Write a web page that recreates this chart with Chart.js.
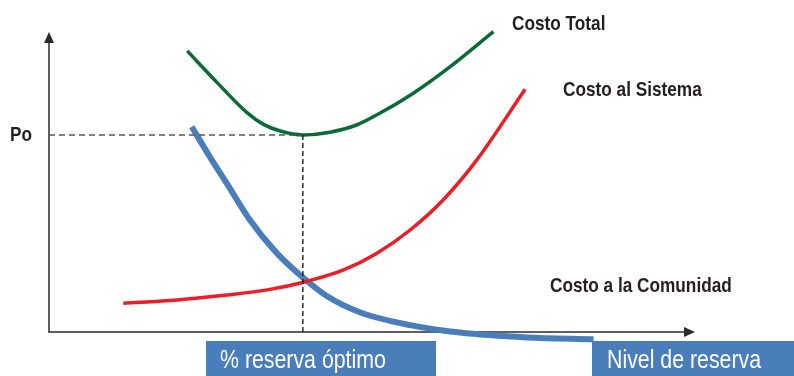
<!DOCTYPE html>
<html>
<head>
<meta charset="utf-8">
<script src="https://cdn.jsdelivr.net/npm/chart.js@4/dist/chart.umd.min.js"></script>
<style>
  html, body { margin: 0; padding: 0; background: #fff; overflow: hidden; }
  canvas { display: block; }
</style>
</head>
<body>
<canvas id="chart" width="794" height="376"></canvas>
<script>
// Reserve level (x, 0–100) against cost (y, 0–100), arbitrary units
const totalX     = [21.4, 26.0, 30.6, 33.2, 35.8, 39.3, 43.5, 47.6, 51.2, 56.4, 61.6, 68.8];
const totalY     = [93.7, 83.2, 73.2, 69.2, 67.0, 65.7, 66.6, 69.0, 72.9, 79.6, 87.6, 100.1];
const systemX    = [11.5, 19.8, 27.5, 34.2, 39.4, 45.6, 50.7, 55.9, 61.0, 66.2, 73.7];
const systemY    = [9.6, 10.7, 12.3, 14.2, 16.6, 20.7, 26.2, 34.0, 44.0, 57.3, 80.9];
const communityX = [22.1, 24.9, 27.5, 31.1, 35.3, 39.4, 43.0, 48.1, 55.9, 63.6, 74.0, 84.3];
const communityY = [68.4, 58.4, 49.6, 37.3, 26.2, 18.0, 12.0, 6.6, 2.3, -0.2, -1.8, -2.4];

// Optimum reserve and its cost level
const optimumX = 39.3;
const optimumCost = 65.7;

// Text
const seriesNames = ['Costo Total', 'Costo al Sistema', 'Costo a la Comunidad'];
const costTick = 'Po';
const optimumLabel = '% reserva óptimo';
const axisLabel = 'Nivel de reserva';

const zip = (xs, ys) => xs.map((x, i) => ({ x, y: ys[i] }));

const COLORS = {
  total: '#0b6b35',
  system: '#ee1d25',
  community: '#4a7ebb',
  box: '#4a7ebb',
  axis: '#2b2b2b',
  text: '#231f20'
};
const BOLD = 'bold 21px "Liberation Sans", Arial, sans-serif';
const PLAIN = '26px "Liberation Sans", Arial, sans-serif';
const NARROW = 0.82; // condensed lettering

function narrowText(ctx, text, x, y) {
  ctx.save();
  ctx.translate(x, y);
  ctx.scale(NARROW, 1);
  ctx.fillText(text, 0, 0);
  ctx.restore();
}

// Axes with arrowheads, drawn under the curves
const axesPlugin = {
  id: 'axes',
  beforeDatasetsDraw(chart) {
    const { ctx, chartArea: a, scales: { x, y } } = chart;
    const x0 = x.getPixelForValue(0), y0 = y.getPixelForValue(0);
    ctx.save();
    ctx.strokeStyle = COLORS.axis;
    ctx.fillStyle = COLORS.axis;
    ctx.lineWidth = 1.5;
    ctx.beginPath();
    ctx.moveTo(x0, a.top + 8);
    ctx.lineTo(x0, y0);
    ctx.lineTo(a.right - 8, y0);
    ctx.stroke();
    ctx.beginPath();
    ctx.moveTo(x0, a.top);
    ctx.lineTo(x0 - 5, a.top + 11);
    ctx.lineTo(x0 + 5, a.top + 11);
    ctx.closePath();
    ctx.fill();
    ctx.beginPath();
    ctx.moveTo(a.right, y0);
    ctx.lineTo(a.right - 11, y0 - 5);
    ctx.lineTo(a.right - 11, y0 + 5);
    ctx.closePath();
    ctx.fill();
    ctx.restore();
  }
};

// Series names, the Po tick and the two label boxes
const labelsPlugin = {
  id: 'labels',
  afterDatasetsDraw(chart) {
    const { ctx, scales: { y } } = chart;
    ctx.save();
    ctx.fillStyle = COLORS.text;
    ctx.font = BOLD;
    ctx.textAlign = 'left';
    ctx.textBaseline = 'alphabetic';
    narrowText(ctx, seriesNames[0], 512, 30);
    narrowText(ctx, seriesNames[1], 563, 96);
    narrowText(ctx, seriesNames[2], 550, 292);

    ctx.textBaseline = 'middle';
    narrowText(ctx, costTick, 10, y.getPixelForValue(optimumCost));

    ctx.fillStyle = COLORS.box;
    ctx.fillRect(206, 341, 230, 35);
    ctx.fillRect(592, 341, 202, 35);
    ctx.fillStyle = '#ffffff';
    ctx.font = PLAIN;
    ctx.textBaseline = 'alphabetic';
    narrowText(ctx, optimumLabel, 220, 368);
    narrowText(ctx, axisLabel, 607, 368);
    ctx.restore();
  }
};

const curve = (label, data, color, width, order) => ({
  label, data, order,
  borderColor: color,
  borderWidth: width,
  pointRadius: 0,
  fill: false,
  cubicInterpolationMode: 'monotone',
  borderCapStyle: 'butt',
  clip: false
});

const guide = (data, color, width, dash) => ({
  data,
  borderColor: color,
  borderWidth: width,
  borderDash: dash,
  pointRadius: 0,
  fill: false,
  tension: 0,
  order: 0,
  clip: false
});

new Chart(document.getElementById('chart'), {
  type: 'line',
  data: {
    datasets: [
      guide([{ x: 0, y: optimumCost }, { x: optimumX, y: optimumCost }], '#555555', 1.5, [6, 4]),
      guide([{ x: optimumX, y: optimumCost }, { x: optimumX, y: 0 }], '#111111', 1.3, [5, 3]),
      curve(seriesNames[1], zip(systemX, systemY), COLORS.system, 3.5, 1),
      curve(seriesNames[2], zip(communityX, communityY), COLORS.community, 6, 2),
      curve(seriesNames[0], zip(totalX, totalY), COLORS.total, 3.5, 3)
    ]
  },
  options: {
    responsive: false,
    devicePixelRatio: 1,
    animation: false,
    layout: { padding: { left: 49, right: 99, top: 32, bottom: 44 } },
    scales: {
      x: { type: 'linear', min: 0, max: 100, display: false },
      y: { type: 'linear', min: 0, max: 100, display: false }
    },
    plugins: {
      legend: { display: false },
      tooltip: { enabled: false }
    }
  },
  plugins: [axesPlugin, labelsPlugin]
});
</script>
</body>
</html>
